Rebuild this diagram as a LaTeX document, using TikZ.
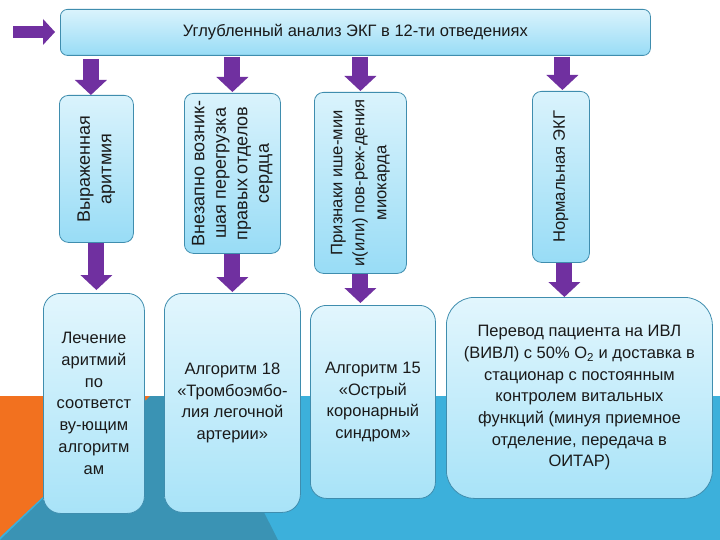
\documentclass[tikz,border=0pt]{standalone}
\usepackage{fontspec}
\setmainfont{Liberation Sans}
\usetikzlibrary{arrows.meta}
\definecolor{purp}{HTML}{7030A0}
\definecolor{orng}{HTML}{F2711F}
\definecolor{dteal}{HTML}{3A93B4}
\definecolor{lblue}{HTML}{3CB0DB}
\definecolor{bord}{HTML}{3F8DAE}
\definecolor{ftop}{HTML}{DAF3FC}
\definecolor{fbot}{HTML}{98DCF6}
\definecolor{gtop}{HTML}{E2F6FD}
\definecolor{gbot}{HTML}{A8E3F8}
\definecolor{txt}{HTML}{1A1A1A}
\begin{document}
\begin{tikzpicture}[x=1pt,y=-1pt,
  box/.style={draw=bord, line width=0.8pt, top color=ftop, bottom color=fbot, inner sep=0pt, anchor=north west},
  lbox/.style={draw=bord, line width=0.8pt, top color=gtop, bottom color=gbot, inner sep=0pt, anchor=north west},
  vtext/.style={rotate=90, align=center, text=txt, font=\fontsize{18}{21.5}\selectfont, inner sep=0pt},
  vtextsm/.style={rotate=90, align=center, text=txt, font=\fontsize{16.6}{22}\selectfont, inner sep=0pt},
  htext/.style={align=center, text=txt, font=\fontsize{16.5}{21.7}\selectfont, inner sep=0pt},
  barrow/.style={purp, line width=16pt, -{Triangle[width=32pt,length=15pt,line width=0pt]}}
]
\useasboundingbox (0,0) rectangle (720,540);
% background
\fill[white] (0,0) rectangle (720,540);
\fill[lblue] (0,396) rectangle (720,540);
\fill[dteal] (150,396) -- (205,396) -- (278,540) -- (0,540) -- cycle;
\fill[orng] (0,396) -- (150,396) -- (0,537) -- cycle;

% top bar
\node[box, rounded corners=7pt, minimum width=590pt, minimum height=46pt] (top) at (60,9) {};
\node[htext] (title) at (top.center) {Углубленный анализ ЭКГ в 12-ти отведениях};

% vertical boxes
\node[box, rounded corners=9pt, minimum width=74pt, minimum height=147pt] (b1) at (59,95) {};
\node[box, rounded corners=9pt, minimum width=96pt, minimum height=160pt] (b2) at (184,93) {};
\node[box, rounded corners=9pt, minimum width=92pt, minimum height=181pt] (b3) at (314,92) {};
\node[box, rounded corners=9pt, minimum width=57pt, minimum height=171pt] (b4) at (532,91) {};
\node[vtext] (t1) at (b1.center) {Выраженная\\аритмия};
\node[vtext] (t2) at (b2.center) {Внезапно возник-\\шая перегрузка\\правых отделов\\сердца};
\node[vtextsm] (t3) at (b3.center) {Признаки ише-мии\\и(или) пов-реж-дения\\миокарда};
\node[vtextsm] (t4) at (b4.center) {Нормальная ЭКГ};

% bottom boxes
\node[lbox, rounded corners=17pt, minimum width=101pt, minimum height=220pt] (bA) at (43,293) {};
\node[lbox, rounded corners=18pt, minimum width=136pt, minimum height=219pt] (bB) at (164,293) {};
\node[lbox, rounded corners=16pt, minimum width=125pt, minimum height=193pt] (bC) at (310,305) {};
\node[lbox, rounded corners=28pt, minimum width=266pt, minimum height=201pt] (bD) at (446,297) {};
\node[htext] (tA) at (bA.center) {Лечение\\аритмий\\по\\соответст\\ву-ющим\\алгоритм\\ам};
\node[htext] (tB) at (bB.center) {Алгоритм 18\\«Тромбоэмбо-\\лия легочной\\артерии»};
\node[htext] (tC) at (bC.center) {Алгоритм 15\\«Острый\\коронарный\\синдром»};
\node[htext] (tD) at (bD.center) {Перевод пациента на ИВЛ\\(ВИВЛ) с 50\% O\textsubscript{2} и доставка в\\стационар с постоянным\\контролем витальных\\функций (минуя приемное\\отделение, передача в\\ОИТАР)};

% left arrow
\coordinate (la) at (13,32);
\draw[purp, line width=12pt, -{Triangle[width=26pt,length=12pt,line width=0pt]}, shorten >=5pt] (la) -- (la -| top.west);

% down arrows from top bar
\path (b1.north) ++(-5.5,0) coordinate (a1);
\path (b4.north) ++(1.5,0) coordinate (a4);
\draw[barrow, shorten <=3pt] (a1 |- top.south) -- (a1);
\draw[barrow, shorten <=1pt, shorten >=1pt] (b2.north |- top.south) -- (b2.north);
\draw[barrow, shorten <=1pt, shorten >=1pt] (b3.north |- top.south) -- (b3.north);
\draw[barrow, shorten <=1pt, shorten >=1pt] (a4 |- top.south) -- (a4);

% down arrows to bottom boxes
\path (b4.south) ++(3.5,0) coordinate (a8);
\draw[barrow, shorten >=3pt] (b1.south) -- (b1.south |- bA.north);
\draw[barrow, shorten >=1pt] (b2.south) -- (b2.south |- bB.north);
\draw[barrow, shorten >=2pt] (b3.south) -- (b3.south |- bC.north);
\draw[barrow] (a8) -- (a8 |- bD.north);
\end{tikzpicture}
\end{document}
